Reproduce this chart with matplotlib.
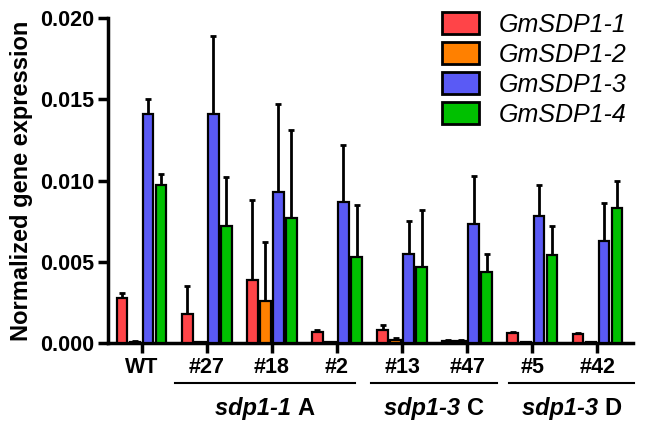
import numpy as np
import matplotlib
matplotlib.use('Agg')
import matplotlib.pyplot as plt
import matplotlib.transforms as mtransforms

plt.rcParams['font.family'] = ['Liberation Sans', 'DejaVu Sans']

lines = ['WT', '#27', '#18', '#2', '#13', '#47', '#5', '#42']
genes = ['GmSDP1-1', 'GmSDP1-2', 'GmSDP1-3', 'GmSDP1-4']
colors = ['#FF4448', '#FF8000', '#5A5AF5', '#00C000']

# mean values per gene (rows) and line (columns)
means = [
    [0.0028, 0.0018, 0.0039, 0.0007, 0.0008, 0.00015, 0.0006, 0.00055],
    [0.00008, 0.00005, 0.0026, 0.00004, 0.0002, 0.00015, 0.00005, 0.00005],
    [0.0141, 0.0141, 0.0093, 0.0087, 0.0055, 0.0073, 0.0078, 0.0063],
    [0.0097, 0.0072, 0.0077, 0.0053, 0.0047, 0.0044, 0.0054, 0.0083],
]
# upper end of error bars
tops = [
    [0.0031, 0.0035, 0.0088, 0.0008, 0.0011, 0.0002, 0.0007, 0.0006],
    [0.0001, 0.00006, 0.0062, 0.00005, 0.0003, 0.0002, 0.00006, 0.00006],
    [0.0150, 0.0189, 0.0147, 0.0122, 0.0075, 0.0103, 0.0097, 0.0086],
    [0.0104, 0.0102, 0.0131, 0.0085, 0.0082, 0.0055, 0.0072, 0.0100],
]

groups = ['sdp1-1', 'sdp1-3', 'sdp1-3']
group_suffix = ['A', 'C', 'D']
group_spans = [(0.51, 3.28), (3.52, 5.46), (5.65, 7.57)]

fig = plt.figure(figsize=(6.5, 4.23), dpi=100)
ax = fig.add_axes([0.166, 0.189, 0.808, 0.768])

x = np.arange(len(lines))
slot = 0.2
bar_w = 0.16
for i, gene in enumerate(genes):
    pos = x + (i - 1.5) * slot
    m = np.array(means[i])
    t = np.array(tops[i])
    ax.errorbar(pos, m, yerr=[np.zeros_like(m), t - m], fmt='none', ecolor='black',
                elinewidth=2, capsize=2.5, capthick=2, zorder=2)
    ax.bar(pos, m, width=bar_w, color=colors[i], edgecolor='black', linewidth=1.6,
           label=gene, zorder=3)

ax.set_xlim(-0.52, 7.55)
ax.set_ylim(0, 0.020)
ax.set_yticks([0.0, 0.005, 0.010, 0.015, 0.020])
ax.set_yticklabels(['0.000', '0.005', '0.010', '0.015', '0.020'])
ax.set_xticks(x)
ax.set_xticklabels(lines)
for lab in ax.get_xticklabels() + ax.get_yticklabels():
    lab.set_fontweight('bold')
    lab.set_fontsize(15.5)
ax.tick_params(axis='both', width=2.5, length=7, direction='out')
ax.tick_params(axis='x', pad=3)
ax.tick_params(axis='y', pad=3)
for s in ['top', 'right']:
    ax.spines[s].set_visible(False)
for s in ['left', 'bottom']:
    ax.spines[s].set_linewidth(2.5)

ax.set_ylabel('Normalized gene expression', fontsize=17, fontweight='bold', labelpad=5)

# group annotations below the x axis
trans = mtransforms.blended_transform_factory(ax.transData, ax.transAxes)
renderer = fig.canvas.get_renderer()
for (a, b), g, suf in zip(group_spans, groups, group_suffix):
    ax.plot([a, b], [-0.123, -0.123], color='black', lw=1.5, transform=trans, clip_on=False)
    t1 = ax.text(0, 0, g + ' ', fontsize=17, fontweight='bold', fontstyle='italic')
    t2 = ax.text(0, 0, suf, fontsize=17, fontweight='bold')
    w1 = t1.get_window_extent(renderer).width
    w2 = t2.get_window_extent(renderer).width
    total = w1 + w2
    base = mtransforms.blended_transform_factory(ax.transData, ax.transAxes)
    t1.set_position(((a + b) / 2, -0.2))
    t1.set_transform(base + mtransforms.ScaledTranslation(-total / 2 / 100, 0, fig.dpi_scale_trans))
    t1.set_va('center')
    t2.set_position(((a + b) / 2, -0.2))
    t2.set_transform(base + mtransforms.ScaledTranslation((-total / 2 + w1) / 100, 0, fig.dpi_scale_trans))
    t2.set_va('center')

leg = ax.legend(loc='upper left', bbox_to_anchor=(0.66, 1.0), bbox_transform=fig.transFigure,
                frameon=False, fontsize=18, handlelength=1.5, handleheight=0.95,
                labelspacing=0.22, handletextpad=0.8, borderaxespad=0.1)
for t in leg.get_texts():
    t.set_fontstyle('italic')
for p in leg.get_patches():
    p.set_linewidth(2)

fig.savefig('out.png', dpi=100)
